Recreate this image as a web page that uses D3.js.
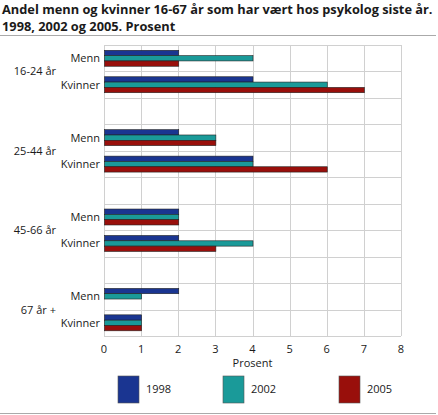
<!DOCTYPE html>
<html>
<head>
<meta charset="utf-8">
<script src="https://cdn.jsdelivr.net/npm/d3@7"></script>
<style>
  body { margin: 0; background: #fff; }
  text { font-family: "Open Sans", sans-serif; fill: #1a1a1a; }
</style>
</head>
<body>
<div id="chart"></div>
<script>
// data
var groups = ["16-24 år", "25-44 år", "45-66 år", "67 år +"];
var sexes = ["Menn", "Kvinner"];
var years = ["1998", "2002", "2005"];
var colors = ["#1a3591", "#1a9a99", "#990f0b"];
var v1998 = [2, 4, 2, 4, 2, 2, 2, 1];
var v2002 = [4, 6, 3, 4, 2, 4, 1, 1];
var v2005 = [2, 7, 3, 6, 2, 3, 0, 1];
var xTicks = [0, 1, 2, 3, 4, 5, 6, 7, 8];

(function() {
  var W = 438, H = 415;
  var svg = d3.select("#chart").append("svg")
    .attr("width", W)
    .attr("height", H);

  // rows: two per group, one empty slot between groups
  var rows = [];
  groups.forEach(function(g, gi) {
    sexes.forEach(function(s) { rows.push(g + "|" + s); });
    if (gi < groups.length - 1) rows.push("gap" + gi);
  });

  var x = d3.scaleLinear().domain([0, 8]).range([104, 401]);
  var y = d3.scaleBand().domain(rows).range([45, 336]);
  var ys = d3.scaleBand().domain(years).range([5.3, y.bandwidth() - 5.2]);
  var series = [v1998, v2002, v2005];

  // title
  svg.append("text").attr("x", 2).attr("y", 14)
    .style("font-size", "12.8px").style("font-weight", "bold")
    .text("Andel menn og kvinner 16-67 år som har vært hos psykolog siste år.");
  svg.append("text").attr("x", 2).attr("y", 31)
    .style("font-size", "12.8px").style("font-weight", "bold")
    .text("1998, 2002 og 2005. Prosent");
  svg.append("line").attr("x1", 0).attr("x2", 436).attr("y1", 35.5).attr("y2", 35.5)
    .attr("stroke", "#aaa").attr("stroke-width", 1);
  svg.append("line").attr("x1", 0).attr("x2", 436).attr("y1", 413.5).attr("y2", 413.5)
    .attr("stroke", "#aaa").attr("stroke-width", 1);

  // grid
  var grid = svg.append("g").attr("stroke", "#d0d0d0").attr("stroke-width", 1);
  grid.selectAll(".v").data(xTicks).enter().append("line")
    .attr("x1", function(d) { return Math.round(x(d)) + 0.5; })
    .attr("x2", function(d) { return Math.round(x(d)) + 0.5; })
    .attr("y1", 45).attr("y2", 336);
  var hy = rows.map(function(r) { return y(r); }).concat([336]);
  grid.selectAll(".h").data(hy).enter().append("line")
    .attr("x1", x(0)).attr("x2", x(8))
    .attr("y1", function(d) { return Math.round(d) + 0.5; })
    .attr("y2", function(d) { return Math.round(d) + 0.5; });

  // bars
  var dataRows = rows.filter(function(r) { return r.indexOf("|") > 0; });
  var bars = [];
  dataRows.forEach(function(r, i) {
    years.forEach(function(yr, k) {
      bars.push({row: r, year: yr, k: k, value: series[k][i]});
    });
  });
  svg.append("g").selectAll("rect").data(bars.filter(function(d) { return d.value > 0; }))
    .enter().append("rect")
    .attr("x", x(0) + 0.5)
    .attr("y", function(d) { return y(d.row) + ys(d.year); })
    .attr("width", function(d) { return x(d.value) - x(0); })
    .attr("height", ys.bandwidth())
    .attr("fill", function(d) { return colors[d.k]; })
    .attr("stroke", "#222")
    .attr("stroke-width", 0.6);

  // row labels
  svg.append("g").selectAll("text").data(dataRows).enter().append("text")
    .attr("x", 100)
    .attr("y", function(r) { return y(r) + y.bandwidth() / 2 + 4; })
    .attr("text-anchor", "end")
    .style("font-size", "11px")
    .text(function(r) { return r.split("|")[1]; });

  // group labels
  svg.append("g").selectAll("text").data(groups).enter().append("text")
    .attr("x", 56)
    .attr("y", function(g) { return y(g + "|Kvinner") + 4; })
    .attr("text-anchor", "end")
    .style("font-size", "11px")
    .text(function(g) { return g; });

  // x axis labels
  svg.append("g").selectAll("text").data(xTicks).enter().append("text")
    .attr("x", function(d) { return x(d); })
    .attr("y", 353)
    .attr("text-anchor", "middle")
    .style("font-size", "11px")
    .text(function(d) { return d; });
  svg.append("text").attr("x", x(4)).attr("y", 367)
    .attr("text-anchor", "middle").style("font-size", "11px")
    .text("Prosent");

  // legend
  var lx = [118, 223, 339];
  var leg = svg.append("g").selectAll("g").data(years).enter().append("g")
    .attr("transform", function(d, i) { return "translate(" + lx[i] + ",376)"; });
  leg.append("rect").attr("width", 21).attr("height", 27)
    .attr("fill", function(d, i) { return colors[i]; })
    .attr("stroke", "#555").attr("stroke-width", 0.6);
  leg.append("text").attr("x", 28).attr("y", 17)
    .style("font-size", "11px")
    .text(function(d) { return d; });
})();
</script>
</body>
</html>
